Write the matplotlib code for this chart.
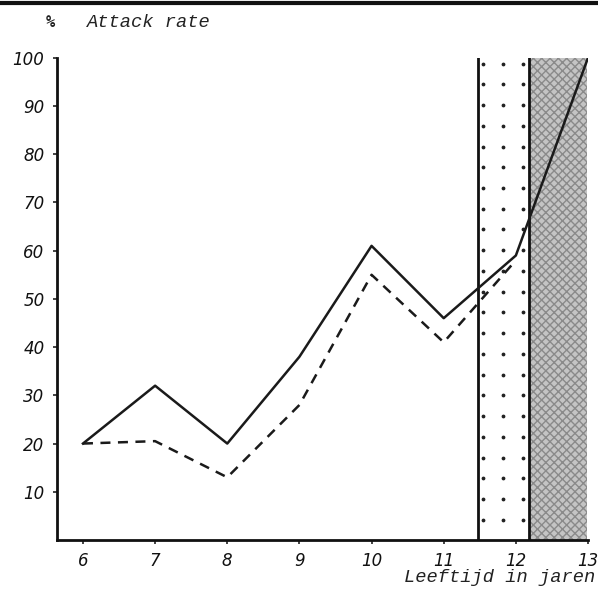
import numpy as np
import matplotlib.pyplot as plt
from matplotlib.lines import Line2D

ages = [6, 7, 8, 9, 10, 11, 12, 13]
solid_rate = [20, 32, 20, 38, 61, 46, 59, 100]
dashed_ages = [6, 7, 8, 9, 10, 11, 12]
dashed_rate = [20, 20.5, 13, 28, 55, 41, 58]
y_ticks = [10, 20, 30, 40, 50, 60, 70, 80, 90, 100]
dotted_band = (11.47, 12.18)
grey_band = (12.18, 12.98)

fig = plt.figure(figsize=(5.98, 6.02), dpi=100)
ax = fig.add_axes([0.0953, 0.103, 0.888, 0.801])

# bands
ax.axvspan(*grey_band, facecolor='#c4c4c4', edgecolor='#8a8a8a',
           hatch='xxxx', linewidth=0)
ax.axvspan(*dotted_band, facecolor='white', edgecolor='none')
dx = np.linspace(dotted_band[0] + 0.08, dotted_band[1] - 0.08, 3)
dy = np.arange(98.8, 2, -4.3)
gx, gy = np.meshgrid(dx, dy)
ax.scatter(gx.ravel(), gy.ravel(), s=3, color='#222222', zorder=2)
for xv in dotted_band:
    ax.axvline(xv, color='#111111', lw=2, zorder=3)

ax.plot(ages, solid_rate, color='#1a1a1a', lw=1.8, zorder=4)
ax.plot(dashed_ages, dashed_rate, color='#1a1a1a', lw=1.8, ls=(0, (4, 3)), zorder=4)

ax.set_xlim(5.64, 13.0)
ax.set_ylim(0, 100)
ax.set_xticks(ages)
ax.set_yticks(y_ticks)
ax.tick_params(axis='both', direction='out', length=3, width=1.2, colors='#222222',
               labelsize=12)
ax.tick_params(axis='x', pad=6)
ax.tick_params(axis='y', pad=6)
for lab in ax.get_xticklabels() + ax.get_yticklabels():
    lab.set_fontstyle('italic')
    lab.set_color('#111111')
for side in ['top', 'right']:
    ax.spines[side].set_visible(False)
for side in ['left', 'bottom']:
    ax.spines[side].set_linewidth(2)
    ax.spines[side].set_color('#111111')

fig.text(0.084, 0.963, '%', fontsize=11, family='DejaVu Sans Mono', weight='bold',
         ha='center', va='center', color='#222222')
fig.text(0.145, 0.963, 'Attack rate', fontsize=13.5, family='Liberation Mono',
         style='italic', ha='left', va='center', color='#222222')
fig.text(0.995, 0.040, 'Leeftijd in jaren', fontsize=13.5, family='Liberation Mono',
         style='italic', ha='right', va='center', color='#222222')

# scan border at the top
fig.add_artist(Line2D([0, 1], [0.995, 0.995], transform=fig.transFigure,
                      color='#111111', lw=3))

fig.savefig('out.png', dpi=100, facecolor='white')
